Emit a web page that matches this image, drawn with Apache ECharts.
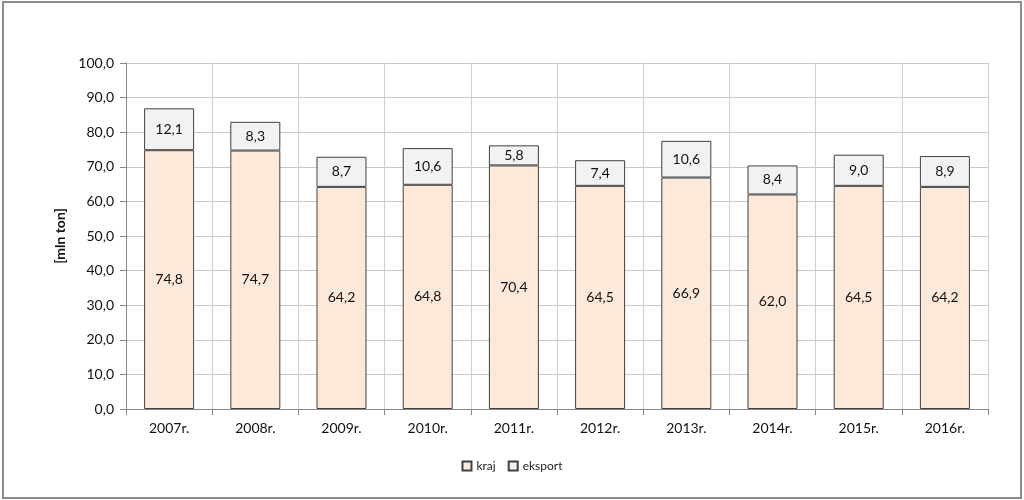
<!DOCTYPE html>
<html>
<head>
<meta charset="utf-8">
<script src="https://cdn.jsdelivr.net/npm/echarts@6/dist/echarts.min.js"></script>
<style>
  html, body { margin: 0; padding: 0; background: #fff; }
  #frame {
    position: absolute; left: 2px; top: 1px; width: 1016px; height: 494px;
    border: 2px solid #8c8c8c; box-sizing: content-box;
  }
  #chart { position: absolute; left: 0; top: 0; width: 1024px; height: 500px; }
</style>
</head>
<body>
<div id="frame"></div>
<div id="chart"></div>
<script>
const years = ['2007r.', '2008r.', '2009r.', '2010r.', '2011r.', '2012r.', '2013r.', '2014r.', '2015r.', '2016r.']
const kraj = [74.8, 74.7, 64.2, 64.8, 70.4, 64.5, 66.9, 62.0, 64.5, 64.2]
const eksport = [12.1, 8.3, 8.7, 10.6, 5.8, 7.4, 10.6, 8.4, 9.0, 8.9]

const font = 'Lato, "Open Sans", sans-serif'
const fmt = v => v.toFixed(1).replace('.', ',')

const chart = echarts.init(document.getElementById('chart'))

chart.setOption({
  animation: false,
  textStyle: { fontFamily: font },
  legend: {
    bottom: 23,
    left: 'center',
    icon: 'rect',
    itemWidth: 9,
    itemHeight: 9,
    itemGap: 12,
    textStyle: { fontSize: 12, color: '#222', fontFamily: font },
    data: ['kraj', 'eksport']
  },
  grid: {
    left: 126,
    right: 36,
    top: 63,
    bottom: 91
  },
  xAxis: {
    type: 'category',
    data: years,
    axisLine: { lineStyle: { color: '#868686' } },
    axisTick: { show: true, length: 6, lineStyle: { color: '#868686' } },
    splitLine: { show: true, lineStyle: { color: '#d0d0d0' } },
    axisLabel: { fontSize: 14, color: '#111', margin: 12 }
  },
  yAxis: {
    type: 'value',
    min: 0,
    max: 100,
    interval: 10,
    name: '[mln ton]',
    nameLocation: 'middle',
    nameGap: 52,
    nameRotate: 90,
    nameTextStyle: { fontSize: 14, fontWeight: 'bold', color: '#111' },
    axisLine: { show: true, lineStyle: { color: '#868686' } },
    axisTick: { show: true, length: 6, lineStyle: { color: '#868686' } },
    splitLine: { lineStyle: { color: '#c8c8c8' } },
    axisLabel: { fontSize: 14, color: '#111', margin: 12, formatter: v => fmt(v) }
  },
  series: [
    {
      name: 'kraj',
      type: 'bar',
      stack: 'total',
      barWidth: '58%',
      data: kraj,
      itemStyle: { color: '#fde9d9', borderColor: '#404040', borderWidth: 1 },
      label: {
        show: true,
        position: 'inside',
        fontSize: 14,
        color: '#111',
        formatter: p => fmt(p.value)
      }
    },
    {
      name: 'eksport',
      type: 'bar',
      stack: 'total',
      data: eksport,
      itemStyle: { color: '#f2f2f2', borderColor: '#404040', borderWidth: 1 },
      label: {
        show: true,
        position: 'inside',
        fontSize: 14,
        color: '#111',
        formatter: p => fmt(p.value)
      }
    }
  ]
})
</script>
</body>
</html>
